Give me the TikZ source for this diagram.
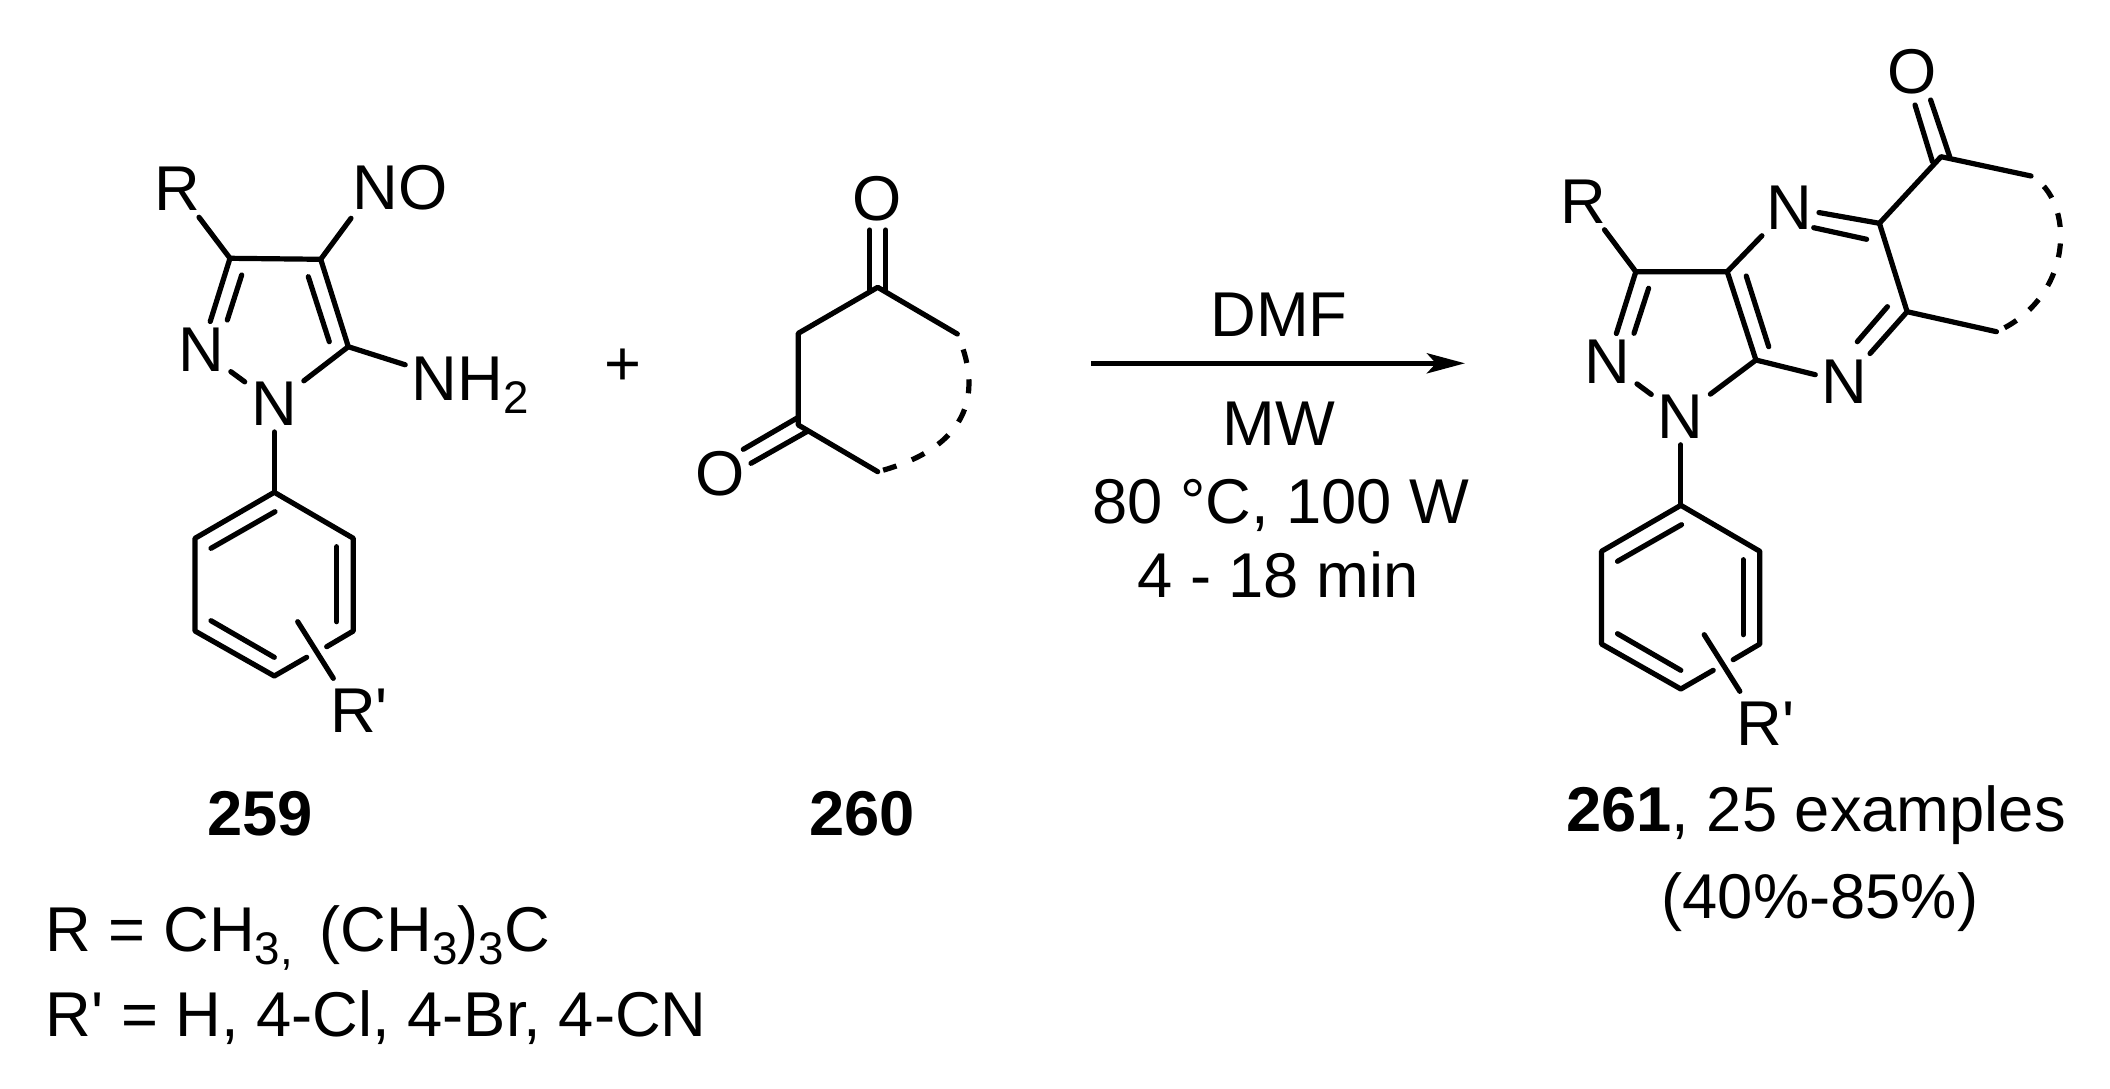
\documentclass[tikz,border=0pt]{standalone}
\usepackage{fontspec}
\setmainfont{Liberation Sans}
\usetikzlibrary{arrows.meta}
\newcommand{\chemsub}[1]{\raisebox{-0.2em}{\fontsize{13}{14}\selectfont #1}}
\newcommand{\Rprime}{R\textquotesingle}
\begin{document}
\begin{tikzpicture}[x=0.01cm,y=-0.01cm,
	bond/.style={line width=0.052cm,line cap=round,line join=round},
	ringdash/.style={bond,line cap=butt,dash pattern=on 0.14cm off 0.165cm,dash phase=0.14cm},
	atomlabel/.style={inner sep=0.06cm,font=\fontsize{18}{20}\selectfont},
	textlabel/.style={inner sep=0pt,anchor=base,font=\fontsize{18}{20}\selectfont}]
	\useasboundingbox (0,0) rectangle (2110,1088);
	% 259
	\node[atomlabel] (r1) at (177.5,188.8) {R};
	\node[atomlabel] (no) at (400,188) {NO};
	\node[atomlabel] (n2) at (201.3,350) {N};
	\node[atomlabel] (n1) at (274.3,403.5) {N};
	\node[atomlabel] (nh2) at (470.3,385.5) {NH\chemsub{2}};
	\node[atomlabel] (rp1) at (359,710.6) {\Rprime};
	\coordinate (c3) at (230,258.3);
	\coordinate (c4) at (320.7,259.3);
	\coordinate (c5) at (348.3,346.7);
	\coordinate (noend) at (351,218.3);
	\coordinate (i3a) at (241.7,275);
	\coordinate (i3b) at (227.3,320);
	\coordinate (i4a) at (308.3,276.7);
	\coordinate (i4b) at (329.3,341.7);
	\draw[bond] (r1) -- (c3) -- (n2);
	\draw[bond] (c3) -- (c4) -- (noend);
	\draw[bond] (c4) -- (c5) -- (n1);
	\draw[bond] (n2) -- (n1);
	\draw[bond] (c5) -- (nh2);
	\draw[bond] (i3a) -- (i3b);
	\draw[bond] (i4a) -- (i4b);
	% phenyl of 259
	\coordinate (p1) at (274.3,492.3);
	\coordinate (p2) at (195,538.3);
	\coordinate (p3) at (195,631);
	\coordinate (p4) at (274.3,676);
	\coordinate (p5) at (353.3,631);
	\coordinate (p6) at (353.3,538.3);
	\coordinate (g1) at (306.7,657.3);
	\coordinate (g2) at (326.7,646.7);
	\coordinate (s1) at (297.7,621.7);
	\coordinate (s1end) at (333.3,678.3);
	\coordinate (j1a) at (275,511.7);
	\coordinate (j1b) at (211,548.3);
	\coordinate (j2a) at (336.7,546.7);
	\coordinate (j2b) at (336.7,621.7);
	\coordinate (j3a) at (211,620.7);
	\coordinate (j3b) at (274.3,657.3);
	\draw[bond] (n1) -- (p1);
	\draw[bond] (g1) -- (p4) -- (p3) -- (p2) -- (p1) -- (p6) -- (p5) -- (g2);
	\draw[bond] (j1a) -- (j1b);
	\draw[bond] (j2a) -- (j2b);
	\draw[bond] (j3a) -- (j3b);
	\draw[bond] (s1) -- (s1end);
	\node[textlabel] (lab259) at (260,835) {\textbf{259}};
	% plus
	\node[atomlabel] (plus) at (623,367) {+};
	% 260
	\node[atomlabel] (o1) at (877.3,199) {O};
	\node[atomlabel] (o2) at (720,473.7) {O};
	\coordinate (k1) at (877.7,287.3);
	\coordinate (k2) at (798.3,333.3);
	\coordinate (k3) at (798.3,425);
	\coordinate (k4) at (877.7,471.7);
	\coordinate (k5) at (957.3,334);
	\coordinate (o1a) at (869.7,230);
	\coordinate (o1b) at (869.7,291.7);
	\coordinate (o1c) at (885.7,230);
	\coordinate (o1d) at (885.7,290.7);
	\coordinate (o2a) at (743.3,449.3);
	\coordinate (o2b) at (798.3,417.3);
	\coordinate (o2c) at (751,463.3);
	\coordinate (o2d) at (806.7,431.7);
	\draw[bond] (k5) -- (k1) -- (k2) -- (k3) -- (k4);
	\draw[bond] (o1a) -- (o1b);
	\draw[bond] (o1c) -- (o1d);
	\draw[bond] (o2a) -- (o2b);
	\draw[bond] (o2c) -- (o2d);
	\draw[ringdash] (k5) .. controls (981,388) and (975,446) .. (k4);
	\node[textlabel] (lab260) at (862,835) {\textbf{260}};
	% arrow
	\coordinate (as) at (1091,363.3);
	\coordinate (ae) at (1465,363.3);
	\draw[bond,line cap=butt,-{Stealth[length=0.38cm,width=0.2cm,inset=0.09cm]}] (as) -- (ae);
	\node[textlabel] (dmf) at (1279,336.7) {DMF};
	\node[textlabel] (mw) at (1279,445.7) {MW};
	\node[textlabel] (temp) at (1281,523.3) {80 °C, 100 W};
	\node[textlabel] (time) at (1278,597.7) {4 - 18 min};
	% 261
	\node[atomlabel] (r2) at (1583.2,201.3) {R};
	\node[atomlabel] (n4) at (1789.4,207.3) {N};
	\node[atomlabel] (n7) at (1844.8,382) {N};
	\node[atomlabel] (n2b) at (1607.4,362) {N};
	\node[atomlabel] (n1b) at (1680.8,416.3) {N};
	\node[atomlabel] (o3) at (1911.6,72) {O};
	\node[atomlabel] (rp2) at (1765.5,723.6) {\Rprime};
	\coordinate (d3) at (1635.8,271.7);
	\coordinate (d3a) at (1727.2,271.7);
	\coordinate (d7a) at (1755.9,360);
	\coordinate (d5) at (1879.4,223.3);
	\coordinate (d6) at (1907.1,311.7);
	\coordinate (d8) at (1941,156.7);
	\coordinate (d9) at (2031,176);
	\coordinate (d10) at (1996.4,331.7);
	\coordinate (i5a) at (1648.6,288.3);
	\coordinate (i5b) at (1634,333.3);
	\coordinate (i6a) at (1746.2,276);
	\coordinate (i6b) at (1768.7,346.7);
	\coordinate (i7a) at (1813.7,227.7);
	\coordinate (i7b) at (1866.6,239.3);
	\coordinate (i8a) at (1887.4,306.7);
	\coordinate (i8b) at (1857.3,341.7);
	\coordinate (o3a) at (1915,105);
	\coordinate (o3b) at (1932.4,161.7);
	\coordinate (o3c) at (1930.6,100);
	\coordinate (o3d) at (1949.7,156.7);
	\draw[bond] (r2) -- (d3) -- (n2b);
	\draw[bond] (d3) -- (d3a) -- (n4);
	\draw[bond] (n2b) -- (n1b) -- (d7a) -- (d3a);
	\draw[bond] (d7a) -- (n7);
	\draw[bond] (n7) -- (d6) -- (d5) -- (n4);
	\draw[bond] (d5) -- (d8) -- (d9);
	\draw[bond] (d6) -- (d10);
	\draw[bond] (i5a) -- (i5b);
	\draw[bond] (i6a) -- (i6b);
	\draw[bond] (i7a) -- (i7b);
	\draw[bond] (i8a) -- (i8b);
	\draw[bond] (o3a) -- (o3b);
	\draw[bond] (o3c) -- (o3d);
	\draw[ringdash] (d9) .. controls (2075,200) and (2075,297) .. (d10);
	% phenyl of 261
	\coordinate (q1) at (1680.8,505.3);
	\coordinate (q2) at (1601.5,551.3);
	\coordinate (q3) at (1601.5,644);
	\coordinate (q4) at (1680.8,689);
	\coordinate (q5) at (1759.8,644);
	\coordinate (q6) at (1759.8,551.3);
	\coordinate (h1) at (1713.2,670.3);
	\coordinate (h2) at (1733.2,659.7);
	\coordinate (s2) at (1704.2,634.7);
	\coordinate (s2end) at (1739.8,691.3);
	\coordinate (m1a) at (1681.5,524.7);
	\coordinate (m1b) at (1617.5,561.3);
	\coordinate (m2a) at (1743.2,559.7);
	\coordinate (m2b) at (1743.2,634.7);
	\coordinate (m3a) at (1617.5,633.7);
	\coordinate (m3b) at (1680.8,670.3);
	\draw[bond] (n1b) -- (q1);
	\draw[bond] (h1) -- (q4) -- (q3) -- (q2) -- (q1) -- (q6) -- (q5) -- (h2);
	\draw[bond] (m1a) -- (m1b);
	\draw[bond] (m2a) -- (m2b);
	\draw[bond] (m3a) -- (m3b);
	\draw[bond] (s2) -- (s2end);
	\node[textlabel] (lab261) at (1816,831) {\textbf{261}, 25 examples};
	\node[textlabel] (yield) at (1820,918) {(40\%-85\%)};
	% substituents
	\node[textlabel,anchor=base west] (defr) at (45,951.7) {R = CH\chemsub{3,}\kern2.6pt{} (CH\chemsub{3})\chemsub{3}C};
	\node[textlabel,anchor=base west] (defrp) at (45,1036.7) {\Rprime{} = H, 4-Cl, 4-Br, 4-CN};
\end{tikzpicture}
\end{document}
